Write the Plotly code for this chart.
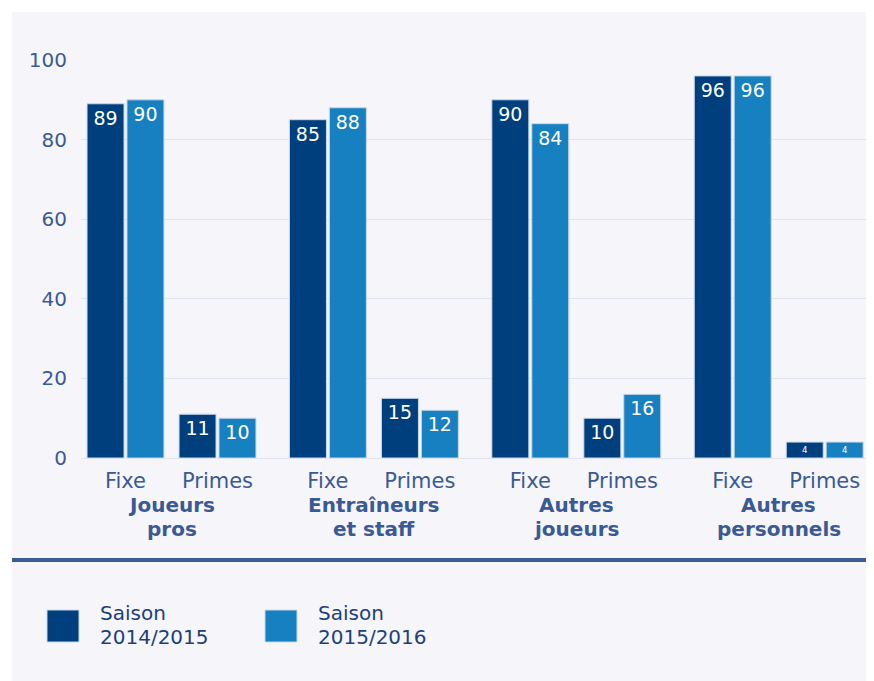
import plotly.graph_objects as go

groups = [["Joueurs", "pros"], ["Entraîneurs", "et staff"], ["Autres", "joueurs"], ["Autres", "personnels"]]
subs = ["Fixe", "Primes"]
season_2014 = [89, 11, 85, 15, 90, 10, 96, 4]
season_2015 = [90, 10, 88, 12, 84, 16, 96, 4]
seasons = [["Saison", "2014/2015"], ["Saison", "2015/2016"]]

# the page body has an 8px margin, so the figure is shifted by 8px
OFF = 8
W, H = 874 - OFF, 681 - OFF
ML, MR, MT = 81 - OFF, 4, 60 - OFF
MB = H - (458 - OFF)
PW, PH = W - ML - MR, H - MT - MB

def px_x(p):
    return (p - OFF - ML) / PW

def px_y(p):
    return (H - MB - (p - OFF)) / PH

dark, light = "#003f7d", "#1780c0"
txt = "#3a5a95"
font = "DejaVu Sans, sans-serif"

# x position of each bar pair: 1 unit between subs, 2.2 between groups
xpos = [g * 2.2 + s for g in range(len(groups)) for s in range(len(subs))]
ticktext = [s for g in groups for s in subs]

fig = go.Figure()
for vals, col, off in [(season_2014, dark, -0.418), (season_2015, light, 0.016)]:
    fig.add_trace(go.Bar(
        x=xpos, y=vals, width=0.402, offset=off,
        marker=dict(color=col, line=dict(color="#c6d8ee", width=1)),
        text=vals, textposition="inside", insidetextanchor="end", textangle=0,
        textfont=dict(color="white", size=19, family=font),
        showlegend=False, hoverinfo="skip",
    ))

fig.update_layout(
    width=W, height=H,
    margin=dict(l=ML, r=MR, t=MT, b=MB),
    barmode="overlay",
    paper_bgcolor="white", plot_bgcolor="rgba(0,0,0,0)",
    font=dict(family=font, color=txt),
)
fig.update_xaxes(
    range=[(ML - (125.5 - OFF)) / 92, (W - MR - (125.5 - OFF)) / 92],
    tickvals=xpos, ticktext=ticktext, tickfont=dict(size=21, color=txt),
    ticks="outside", ticklen=4, tickcolor="rgba(0,0,0,0)",
    showgrid=False, zeroline=False, showline=False,
)
fig.update_yaxes(
    range=[0, 100], tickvals=[0, 20, 40, 60, 80, 100],
    tickfont=dict(size=20, color=txt),
    ticks="outside", ticklen=9, tickcolor="rgba(0,0,0,0)",
    showgrid=True, gridcolor="#dfe4f2", gridwidth=1,
    zeroline=True, zerolinecolor="#dfe4f2", zerolinewidth=1, showline=False,
)

# panel background and separator
fig.add_shape(type="rect", xref="paper", yref="paper",
              x0=px_x(12), x1=px_x(880), y0=px_y(690), y1=px_y(12),
              fillcolor="#f5f5fa", line_width=0, layer="below")
fig.add_shape(type="line", xref="paper", yref="paper",
              x0=px_x(12), x1=px_x(880), y0=px_y(560), y1=px_y(560),
              line=dict(color="#3b5b94", width=4))

# group labels
for g, lines in enumerate(groups):
    for i, line in enumerate(lines):
        fig.add_annotation(x=g * 2.2 + 0.5, xref="x", y=px_y(505 + 24 * i), yref="paper",
                           text="<b>" + line + "</b>", showarrow=False,
                           font=dict(size=20, color=txt, family=font),
                           xanchor="center", yanchor="middle")

# legend
for i, (lines, col) in enumerate(zip(seasons, [dark, light])):
    x0 = 47 + 218 * i
    fig.add_shape(type="rect", xref="paper", yref="paper",
                  x0=px_x(x0), x1=px_x(x0 + 32), y0=px_y(642), y1=px_y(610),
                  fillcolor=col, line=dict(color="#c6d8ee", width=1))
    for j, line in enumerate(lines):
        fig.add_annotation(x=px_x(x0 + 51), xref="paper", y=px_y(613 + 24 * j), yref="paper",
                           text=line, showarrow=False,
                           xanchor="left", yanchor="middle",
                           font=dict(size=20, color="#1d3f7a", family=font))

fig.write_html("out.html")
